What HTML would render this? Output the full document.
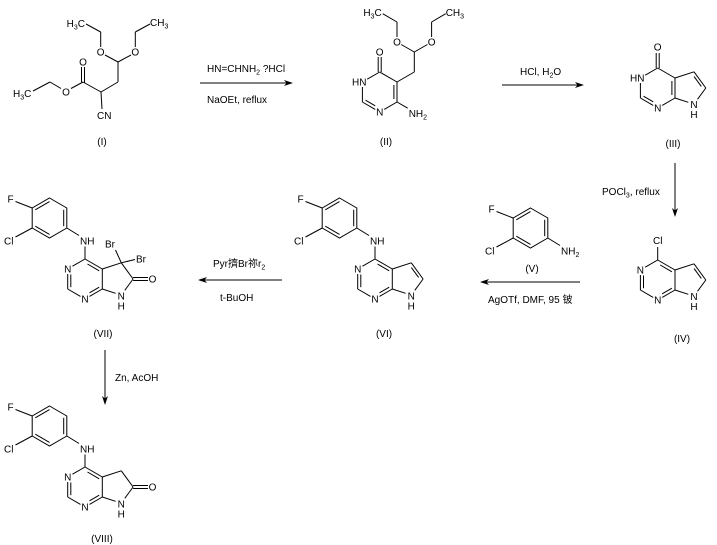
<!DOCTYPE html>
<html><head><meta charset="utf-8">
<style>
html,body{margin:0;padding:0;background:#fff;}
svg{display:block;}
text{font-family:"Liberation Sans","Noto Sans CJK SC",sans-serif;font-size:10px;fill:#000;stroke:none;}
.m{text-anchor:middle;}
.e{text-anchor:end;}
</style></head><body>
<svg width="717" height="545" viewBox="0 0 717 545" xmlns="http://www.w3.org/2000/svg">
<rect width="717" height="545" fill="#fff"/>

<!-- ===== Compound I ===== -->
<g stroke="#000" stroke-width="1" fill="none">
<line x1="33" y1="91" x2="50" y2="82"/>
<line x1="50" y1="82" x2="61" y2="88.5"/>
<line x1="71" y1="88.5" x2="83" y2="82"/>
<line x1="81.5" y1="82" x2="81.5" y2="67"/>
<line x1="84.5" y1="83" x2="84.5" y2="67"/>
<line x1="83" y1="82" x2="101" y2="92"/>
<line x1="101" y1="92" x2="102" y2="109"/>
<line x1="101" y1="92" x2="118" y2="82"/>
<line x1="118" y1="82" x2="118" y2="62"/>
<line x1="118" y1="62" x2="105" y2="55"/>
<line x1="100.7" y1="47" x2="100.7" y2="32"/>
<line x1="100.7" y1="32" x2="86" y2="24"/>
<line x1="118" y1="62" x2="131" y2="55"/>
<line x1="135.3" y1="47" x2="135.3" y2="32"/>
<line x1="135.3" y1="32" x2="150" y2="24"/>
</g>
<text x="13" y="97">H<tspan dy="2.5" font-size="7">3</tspan><tspan dy="-2.5">C</tspan></text>
<text class="m" x="66" y="95.6">O</text>
<text class="m" x="83" y="65.6">O</text>
<text class="m" x="100.7" y="55.6">O</text>
<text class="m" x="135.3" y="55.6">O</text>
<text x="97" y="119">CN</text>
<text class="e" x="85" y="27">H<tspan dy="2.5" font-size="7">3</tspan><tspan dy="-2.5">C</tspan></text>
<text x="150" y="26">CH<tspan dy="2.5" font-size="7">3</tspan></text>
<text class="m" x="102" y="145">(I)</text>

<!-- ===== Arrow 1 ===== -->
<line x1="200" y1="83" x2="287" y2="83" stroke="#000" stroke-width="1"/>
<polygon points="293,83 284,80 286.5,83 284,86" fill="#000"/>
<text x="207" y="72">HN=CHNH<tspan dy="2.5" font-size="7">2</tspan><tspan dy="-2.5"> ?HCl</tspan></text>
<text x="207" y="103">NaOEt, reflux</text>

<!-- ===== Compound II ===== -->
<g transform="translate(379.7,72)">
<g stroke="#000" stroke-width="1" fill="none">
<line x1="0" y1="0" x2="-12.5" y2="7.2"/>
<line x1="-17.3" y1="15" x2="-17.3" y2="30"/>
<line x1="-17.3" y1="30" x2="-4.5" y2="37.4"/>
<line x1="-14.2" y1="28.2" x2="-4.5" y2="33.8"/>
<line x1="4.5" y1="37.4" x2="17.3" y2="30"/>
<line x1="17.3" y1="30" x2="17.3" y2="10"/>
<line x1="14.2" y1="13" x2="14.2" y2="27"/>
<line x1="17.3" y1="10" x2="0" y2="0"/>
<line x1="-1.5" y1="0" x2="-1.5" y2="-15"/>
<line x1="1.5" y1="0" x2="1.5" y2="-15"/>
<line x1="17.3" y1="30" x2="28" y2="36.2"/>
<line x1="17.3" y1="10" x2="34.6" y2="0"/>
<line x1="34.6" y1="0" x2="34.6" y2="-20"/>
<line x1="34.6" y1="-20" x2="21.5" y2="-27.5"/>
<line x1="17.3" y1="-35" x2="17.3" y2="-50"/>
<line x1="17.3" y1="-50" x2="3" y2="-58.3"/>
<line x1="34.6" y1="-20" x2="47.7" y2="-27.5"/>
<line x1="51.9" y1="-35" x2="51.9" y2="-50"/>
<line x1="51.9" y1="-50" x2="66" y2="-58.3"/>
</g>
<text class="m" x="0" y="-16.4">O</text>
<text class="e" x="-13.2" y="13.6">HN</text>
<text class="m" x="0" y="43.6">N</text>
<text x="29" y="45">NH<tspan dy="2.5" font-size="7">2</tspan></text>
<text class="m" x="17.3" y="-26.4">O</text>
<text class="m" x="51.9" y="-26.4">O</text>
<text class="e" x="2" y="-56">H<tspan dy="2.5" font-size="7">3</tspan><tspan dy="-2.5">C</tspan></text>
<text x="66" y="-56">CH<tspan dy="2.5" font-size="7">3</tspan></text>
</g>
<text class="m" x="386" y="145">(II)</text>

<!-- ===== Arrow 2 ===== -->
<line x1="502" y1="85" x2="578" y2="85" stroke="#000" stroke-width="1"/>
<polygon points="584,85 575,82 577.5,85 575,88" fill="#000"/>
<text x="520" y="75">HCl, H<tspan dy="2.5" font-size="7">2</tspan><tspan dy="-2.5">O</tspan></text>

<!-- ===== Compound III ===== -->
<g transform="translate(657.7,68)">
<g stroke="#000" stroke-width="1" fill="none">
<line x1="-1.5" y1="0" x2="-1.5" y2="-15"/>
<line x1="1.5" y1="0" x2="1.5" y2="-15"/>
<line x1="0" y1="0" x2="-12.5" y2="7.2"/>
<line x1="-17.3" y1="15" x2="-17.3" y2="30"/>
<line x1="-17.3" y1="30" x2="-4.5" y2="37.4"/>
<line x1="-14.2" y1="28.2" x2="-4.5" y2="33.8"/>
<line x1="4.5" y1="37.4" x2="17.3" y2="30"/>
<line x1="17.3" y1="30" x2="17.3" y2="10"/>
<line x1="14.2" y1="13" x2="14.2" y2="27"/>
<line x1="17.3" y1="10" x2="0" y2="0"/>
<line x1="17.3" y1="10" x2="36.3" y2="3.8"/>
<line x1="36.3" y1="3.8" x2="48.1" y2="20"/>
<line x1="36.4" y1="8.6" x2="43.6" y2="18.4"/>
<line x1="48.1" y1="20" x2="39.8" y2="31.3"/>
<line x1="30.6" y1="34.3" x2="17.3" y2="30"/>
</g>
<text class="m" x="0" y="-17.4">O</text>
<text class="e" x="-13.2" y="13.6">HN</text>
<text class="m" x="0" y="43.6">N</text>
<text class="m" x="36.3" y="40">N</text>
<text class="m" x="36.3" y="50">H</text>
</g>
<text class="m" x="673" y="147">(III)</text>

<!-- ===== Arrow 3 (down) ===== -->
<line x1="675" y1="163" x2="675" y2="211" stroke="#000" stroke-width="1"/>
<polygon points="675,217 672,208 675,210.5 678,208" fill="#000"/>
<text x="602" y="195">POCl<tspan dy="2.5" font-size="7">3</tspan><tspan dy="-2.5">, reflux</tspan></text>

<!-- ===== Compound IV ===== -->
<g transform="translate(657.7,260)">
<g stroke="#000" stroke-width="1" fill="none">
<line x1="0" y1="0" x2="0" y2="-13"/>
<line x1="0" y1="0" x2="17.3" y2="10"/>
<line x1="2.5" y1="5" x2="14.2" y2="11.8"/>
<line x1="0" y1="0" x2="-12.5" y2="7.2"/>
<line x1="-17.3" y1="15" x2="-17.3" y2="30"/>
<line x1="-14.2" y1="15.5" x2="-14.2" y2="28.2"/>
<line x1="-17.3" y1="30" x2="-4.5" y2="37.4"/>
<line x1="4.5" y1="37.4" x2="17.3" y2="30"/>
<line x1="4.5" y1="33.8" x2="14.2" y2="28.2"/>
<line x1="17.3" y1="10" x2="17.3" y2="30"/>
<line x1="17.3" y1="10" x2="36.3" y2="3.8"/>
<line x1="36.3" y1="3.8" x2="48.1" y2="20"/>
<line x1="36.4" y1="8.6" x2="43.6" y2="18.4"/>
<line x1="48.1" y1="20" x2="39.8" y2="31.3"/>
<line x1="30.6" y1="34.3" x2="17.3" y2="30"/>
</g>
<text class="m" x="0" y="-16">Cl</text>
<text class="m" x="-17.3" y="13.6">N</text>
<text class="m" x="0" y="43.6">N</text>
<text class="m" x="36.3" y="40">N</text>
<text class="m" x="36.3" y="50">H</text>
</g>
<text class="m" x="682" y="342">(IV)</text>

<!-- ===== Compound V ===== -->
<g transform="translate(566,269)">
<g stroke="#000" stroke-width="1" fill="none">
<polygon points="-35.5,-61 -18.2,-51 -18.2,-31 -35.5,-21 -52.8,-31 -52.8,-51"/>
<line x1="-49.7" y1="-49.2" x2="-35.5" y2="-57.4"/>
<line x1="-21.3" y1="-49.2" x2="-21.3" y2="-32.8"/>
<line x1="-35.5" y1="-24.6" x2="-49.7" y2="-32.8"/>
<line x1="-52.8" y1="-51" x2="-69.5" y2="-57.5"/>
<line x1="-52.8" y1="-31" x2="-69.5" y2="-22"/>
<line x1="-18.2" y1="-31" x2="-6" y2="-23.5"/>
</g>
<text x="-77.5" y="-56.5">F</text>
<text x="-81" y="-14.5">Cl</text>
<text x="-5" y="-14.5">NH<tspan dy="2.5" font-size="7">2</tspan></text>
</g>
<text class="m" x="532" y="272">(V)</text>

<!-- ===== Arrow 4 (left) ===== -->
<line x1="580" y1="282" x2="486" y2="282" stroke="#000" stroke-width="1"/>
<polygon points="480,282 489,279 486.5,282 489,285" fill="#000"/>
<text x="488" y="303">AgOTf, DMF, 95 铍</text>

<!-- ===== Compound VI ===== -->
<g transform="translate(375,259)">
<g stroke="#000" stroke-width="1" fill="none">
<polygon points="-35.5,-61 -18.2,-51 -18.2,-31 -35.5,-21 -52.8,-31 -52.8,-51"/>
<line x1="-49.7" y1="-49.2" x2="-35.5" y2="-57.4"/>
<line x1="-21.3" y1="-49.2" x2="-21.3" y2="-32.8"/>
<line x1="-35.5" y1="-24.6" x2="-49.7" y2="-32.8"/>
<line x1="-52.8" y1="-51" x2="-69.5" y2="-57.5"/>
<line x1="-52.8" y1="-31" x2="-69.5" y2="-22"/>
<line x1="-18.2" y1="-31" x2="-6" y2="-23.5"/>
<line x1="0" y1="-12.5" x2="0" y2="0"/>
<line x1="0" y1="0" x2="17.3" y2="10"/>
<line x1="2.5" y1="5" x2="14.2" y2="11.8"/>
<line x1="0" y1="0" x2="-12.5" y2="7.2"/>
<line x1="-17.3" y1="15" x2="-17.3" y2="30"/>
<line x1="-14.2" y1="15.5" x2="-14.2" y2="28.2"/>
<line x1="-17.3" y1="30" x2="-4.5" y2="37.4"/>
<line x1="4.5" y1="37.4" x2="17.3" y2="30"/>
<line x1="4.5" y1="33.8" x2="14.2" y2="28.2"/>
<line x1="17.3" y1="10" x2="17.3" y2="30"/>
<line x1="17.3" y1="10" x2="36.3" y2="3.8"/>
<line x1="36.3" y1="3.8" x2="48.1" y2="20"/>
<line x1="36.4" y1="8.6" x2="43.6" y2="18.4"/>
<line x1="48.1" y1="20" x2="39.8" y2="31.3"/>
<line x1="30.6" y1="34.3" x2="17.3" y2="30"/>
</g>
<text x="-77.5" y="-56.5">F</text>
<text x="-81" y="-14.5">Cl</text>
<text x="-5" y="-14.5">NH</text>
<text class="m" x="-17.3" y="13.6">N</text>
<text class="m" x="0" y="43.6">N</text>
<text class="m" x="36.3" y="40.5">N</text>
<text class="m" x="36.3" y="50.5">H</text>
</g>
<text class="m" x="384" y="337">(VI)</text>

<!-- ===== Arrow 5 (left) ===== -->
<line x1="282" y1="280" x2="204" y2="280" stroke="#000" stroke-width="1"/>
<polygon points="198,280 207,277 204.5,280 207,283" fill="#000"/>
<text x="213" y="267">Pyr擠Br祢r<tspan dy="2.5" font-size="7">2</tspan></text>
<text x="220" y="301">t-BuOH</text>

<!-- ===== Compound VII ===== -->
<g transform="translate(85,259)">
<g stroke="#000" stroke-width="1" fill="none">
<polygon points="-35.5,-61 -18.2,-51 -18.2,-31 -35.5,-21 -52.8,-31 -52.8,-51"/>
<line x1="-49.7" y1="-49.2" x2="-35.5" y2="-57.4"/>
<line x1="-21.3" y1="-49.2" x2="-21.3" y2="-32.8"/>
<line x1="-35.5" y1="-24.6" x2="-49.7" y2="-32.8"/>
<line x1="-52.8" y1="-51" x2="-69.5" y2="-57.5"/>
<line x1="-52.8" y1="-31" x2="-69.5" y2="-22"/>
<line x1="-18.2" y1="-31" x2="-6" y2="-23.5"/>
<line x1="0" y1="-12.5" x2="0" y2="0"/>
<line x1="0" y1="0" x2="17.3" y2="10"/>
<line x1="2.5" y1="5" x2="14.2" y2="11.8"/>
<line x1="0" y1="0" x2="-12.5" y2="7.2"/>
<line x1="-17.3" y1="15" x2="-17.3" y2="30"/>
<line x1="-14.2" y1="15.5" x2="-14.2" y2="28.2"/>
<line x1="-17.3" y1="30" x2="-4.5" y2="37.4"/>
<line x1="4.5" y1="37.4" x2="17.3" y2="30"/>
<line x1="4.5" y1="33.8" x2="14.2" y2="28.2"/>
<line x1="17.3" y1="10" x2="17.3" y2="30"/>
<line x1="17.3" y1="10" x2="36.3" y2="3.8"/>
<line x1="36.3" y1="3.8" x2="48.1" y2="20"/>
<line x1="48.1" y1="20" x2="39.8" y2="31.3"/>
<line x1="30.6" y1="34.3" x2="17.3" y2="30"/>
<line x1="48.1" y1="18.5" x2="63" y2="18.5"/>
<line x1="48.1" y1="21.5" x2="63" y2="21.5"/>
<line x1="36.3" y1="3.8" x2="30.5" y2="-9"/>
<line x1="36.3" y1="3.8" x2="50" y2="0.5"/>
</g>
<text x="-77.5" y="-56.5">F</text>
<text x="-81" y="-14.5">Cl</text>
<text x="-5" y="-14.5">NH</text>
<text class="m" x="-17.3" y="13.6">N</text>
<text class="m" x="0" y="43.6">N</text>
<text class="m" x="36.3" y="40.5">N</text>
<text class="m" x="36.3" y="50.5">H</text>
<text class="m" x="67.5" y="23.6">O</text>
<text x="20" y="-11.5">Br</text>
<text x="51" y="3.5">Br</text>
</g>
<text class="m" x="103" y="337">(VII)</text>

<!-- ===== Arrow 6 (down) ===== -->
<line x1="105" y1="350" x2="105" y2="399" stroke="#000" stroke-width="1"/>
<polygon points="105,405 102,396 105,398.5 108,396" fill="#000"/>
<text x="115" y="381">Zn, AcOH</text>

<!-- ===== Compound VIII ===== -->
<g transform="translate(85,467)">
<g stroke="#000" stroke-width="1" fill="none">
<polygon points="-35.5,-61 -18.2,-51 -18.2,-31 -35.5,-21 -52.8,-31 -52.8,-51"/>
<line x1="-49.7" y1="-49.2" x2="-35.5" y2="-57.4"/>
<line x1="-21.3" y1="-49.2" x2="-21.3" y2="-32.8"/>
<line x1="-35.5" y1="-24.6" x2="-49.7" y2="-32.8"/>
<line x1="-52.8" y1="-51" x2="-69.5" y2="-57.5"/>
<line x1="-52.8" y1="-31" x2="-69.5" y2="-22"/>
<line x1="-18.2" y1="-31" x2="-6" y2="-23.5"/>
<line x1="0" y1="-12.5" x2="0" y2="0"/>
<line x1="0" y1="0" x2="17.3" y2="10"/>
<line x1="2.5" y1="5" x2="14.2" y2="11.8"/>
<line x1="0" y1="0" x2="-12.5" y2="7.2"/>
<line x1="-17.3" y1="15" x2="-17.3" y2="30"/>
<line x1="-14.2" y1="15.5" x2="-14.2" y2="28.2"/>
<line x1="-17.3" y1="30" x2="-4.5" y2="37.4"/>
<line x1="4.5" y1="37.4" x2="17.3" y2="30"/>
<line x1="4.5" y1="33.8" x2="14.2" y2="28.2"/>
<line x1="17.3" y1="10" x2="17.3" y2="30"/>
<line x1="17.3" y1="10" x2="36.3" y2="3.8"/>
<line x1="36.3" y1="3.8" x2="48.1" y2="20"/>
<line x1="48.1" y1="20" x2="39.8" y2="31.3"/>
<line x1="30.6" y1="34.3" x2="17.3" y2="30"/>
<line x1="48.1" y1="18.5" x2="63" y2="18.5"/>
<line x1="48.1" y1="21.5" x2="63" y2="21.5"/>
</g>
<text x="-77.5" y="-56.5">F</text>
<text x="-81" y="-14.5">Cl</text>
<text x="-5" y="-14.5">NH</text>
<text class="m" x="-17.3" y="13.6">N</text>
<text class="m" x="0" y="43.6">N</text>
<text class="m" x="36.3" y="40.5">N</text>
<text class="m" x="36.3" y="50.5">H</text>
<text class="m" x="67.5" y="23.6">O</text>
</g>
<text class="m" x="102" y="542">(VIII)</text>

</svg>
</body></html>
